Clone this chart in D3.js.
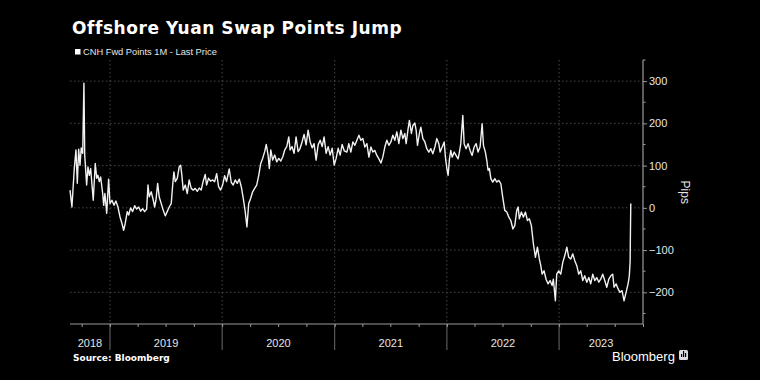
<!DOCTYPE html>
<html>
<head>
<meta charset="utf-8">
<script src="https://cdn.jsdelivr.net/npm/d3@7"></script>
<style>
html,body{margin:0;padding:0;background:#000;}
svg{display:block;}
</style>
</head>
<body>
<svg id="chart" width="760" height="380"></svg>
<script>
// ---- data ----
const title = "Offshore Yuan Swap Points Jump";
const seriesName = "CNH Fwd Points 1M - Last Price";
const yAxisTitle = "Pips";
const sourceText = "Source: Bloomberg";
const yTicks = [-200, -100, 0, 100, 200, 300];
const yearLabels = ["2018", "2019", "2020", "2021", "2022", "2023"];
const domainStart = "2018-08-24";
const domainEnd = "2023-10-01";

// observation time as fractional year
const yearFrac = [
2018.644,2018.661,2018.682,2018.697,2018.709,2018.721,2018.733,2018.744,2018.757,2018.768,
2018.775,2018.792,2018.804,2018.816,2018.828,2018.840,2018.851,2018.869,2018.882,2018.893,
2018.905,2018.917,2018.935,2018.944,2018.955,2018.971,2018.988,2019.000,2019.018,2019.036,
2019.053,2019.071,2019.089,2019.107,2019.122,2019.136,2019.154,2019.167,2019.184,2019.202,
2019.220,2019.238,2019.256,2019.273,2019.291,2019.309,2019.327,2019.339,2019.350,2019.368,
2019.386,2019.398,2019.410,2019.425,2019.439,2019.457,2019.475,2019.493,2019.510,2019.528,
2019.546,2019.559,2019.570,2019.582,2019.600,2019.617,2019.630,2019.641,2019.653,2019.671,
2019.689,2019.706,2019.724,2019.742,2019.760,2019.778,2019.796,2019.813,2019.831,2019.849,
2019.861,2019.879,2019.897,2019.915,2019.933,2019.951,2019.968,2019.986,2020.004,2020.022,
2020.039,2020.063,2020.081,2020.098,2020.116,2020.134,2020.152,2020.170,2020.188,2020.205,
2020.220,2020.236,2020.253,2020.271,2020.289,2020.307,2020.325,2020.343,2020.360,2020.378,
2020.392,2020.408,2020.419,2020.432,2020.449,2020.467,2020.485,2020.503,2020.521,2020.539,
2020.556,2020.574,2020.592,2020.604,2020.621,2020.639,2020.657,2020.675,2020.693,2020.710,
2020.728,2020.746,2020.764,2020.782,2020.800,2020.817,2020.835,2020.853,2020.871,2020.889,
2020.906,2020.924,2020.942,2020.960,2020.978,2020.996,2021.013,2021.031,2021.049,2021.067,
2021.085,2021.109,2021.126,2021.144,2021.162,2021.180,2021.198,2021.216,2021.233,2021.251,
2021.269,2021.287,2021.305,2021.323,2021.340,2021.358,2021.376,2021.394,2021.412,2021.429,
2021.447,2021.465,2021.483,2021.501,2021.518,2021.536,2021.554,2021.572,2021.590,2021.608,
2021.625,2021.637,2021.655,2021.666,2021.684,2021.697,2021.714,2021.726,2021.738,2021.755,
2021.768,2021.786,2021.804,2021.821,2021.839,2021.857,2021.875,2021.893,2021.910,2021.928,
2021.940,2021.958,2021.976,2021.987,2022.000,2022.011,2022.023,2022.035,2022.047,2022.065,
2022.082,2022.100,2022.112,2022.124,2022.142,2022.154,2022.171,2022.189,2022.207,2022.225,
2022.243,2022.261,2022.278,2022.296,2022.314,2022.326,2022.343,2022.356,2022.367,2022.379,
2022.392,2022.409,2022.427,2022.445,2022.463,2022.481,2022.498,2022.516,2022.534,2022.552,
2022.570,2022.588,2022.605,2022.623,2022.635,2022.646,2022.664,2022.682,2022.700,2022.718,
2022.735,2022.753,2022.771,2022.789,2022.807,2022.824,2022.837,2022.849,2022.866,2022.884,
2022.902,2022.920,2022.938,2022.949,2022.967,2022.979,2022.997,2023.015,2023.033,2023.051,
2023.069,2023.086,2023.104,2023.122,2023.140,2023.158,2023.175,2023.193,2023.211,2023.229,
2023.247,2023.265,2023.282,2023.300,2023.318,2023.336,2023.354,2023.371,2023.389,2023.407,
2023.425,2023.443,2023.461,2023.478,2023.490,2023.508,2023.526,2023.543,2023.561,2023.579,
2023.597,2023.615,2023.626,2023.633,2023.639
];
const pips = [
42,2,93,137,58,139,101,142,129,295,
125,54,97,77,93,54,18,105,70,77,
62,73,34,6,34,-13,68,10,18,6,
16,2,-21,-37,-53,-37,-9,-17,0,-9,
5,-3,2,-8,-2,-9,-3,54,26,38,
18,2,18,58,26,10,-6,-19,-9,2,
10,54,85,62,70,97,101,77,42,54,
34,66,46,42,46,39,47,42,63,79,
54,70,63,66,62,81,50,42,54,76,
62,92,60,54,66,58,68,50,22,-9,
-45,10,22,38,46,54,77,105,117,133,
150,125,93,137,113,125,109,117,111,121,
137,145,168,137,145,129,168,133,141,156,
174,149,184,156,142,152,113,149,160,145,
168,129,145,125,141,101,117,141,125,150,
135,132,152,132,156,148,160,172,160,164,
144,152,120,144,132,136,124,116,106,120,
144,160,148,156,172,160,180,152,184,164,
176,152,188,207,176,195,201,184,148,176,
191,164,156,140,132,140,128,144,164,152,
132,144,156,120,93,77,116,136,120,132,
124,116,132,152,219,152,140,152,136,124,
144,152,132,144,199,148,132,112,89,93,
69,61,69,61,65,57,25,-6,-10,-22,
-30,-50,-42,-6,2,-26,-10,-22,-10,-30,
-26,-42,-85,-117,-93,-121,-137,-157,-149,-169,
-180,-172,-184,-169,-220,-157,-149,-157,-129,-113,
-93,-117,-121,-109,-125,-137,-157,-149,-172,-161,
-176,-165,-180,-157,-172,-165,-176,-169,-157,-172,
-188,-169,-161,-157,-188,-180,-192,-200,-196,-220,
-200,-180,-161,-129,10
];

// ---- helpers ----
function fracToDate(f) {
  const y = Math.floor(f);
  const s = Date.UTC(y, 0, 1), e = Date.UTC(y + 1, 0, 1);
  return new Date(s + (f - y) * (e - s));
}
const data = yearFrac.map((f, i) => ({ date: fracToDate(f), value: pips[i] }));

const svg = d3.select("#chart");
const W = 760, H = 380;
svg.append("rect").attr("width", W).attr("height", H).attr("fill", "#000");

const plot = { left: 70, right: 643, top: 60, bottom: 324 };
const x = d3.scaleUtc()
  .domain([new Date(domainStart + "T00:00:00Z"), new Date(domainEnd + "T00:00:00Z")])
  .range([plot.left, plot.right]);
const y = d3.scaleLinear().domain([-275, 350]).range([plot.bottom, plot.top]);

const gridColor = "#5a5a5a";
const axisColor = "#9a9a9a";
const textColor = "#e6e6e6";
const fontMain = "'Liberation Sans', Arial, sans-serif";

// horizontal gridlines
svg.append("g").selectAll("line").data(yTicks).join("line")
  .attr("x1", plot.left).attr("x2", plot.right)
  .attr("y1", d => y(d)).attr("y2", d => y(d))
  .attr("stroke", gridColor).attr("stroke-width", 0.8)
  .attr("stroke-dasharray", "1.5,2.5");

// year boundaries
const [d0, d1] = x.domain();
const yearStarts = d3.utcYear.range(d3.utcYear.ceil(d0), d1);
svg.append("g").selectAll("line").data(yearStarts).join("line")
  .attr("x1", d => x(d)).attr("x2", d => x(d))
  .attr("y1", plot.top).attr("y2", plot.bottom)
  .attr("stroke", gridColor).attr("stroke-width", 0.8)
  .attr("stroke-dasharray", "1.5,2.5");
svg.append("g").selectAll("line").data(yearStarts).join("line")
  .attr("x1", d => x(d)).attr("x2", d => x(d))
  .attr("y1", plot.bottom).attr("y2", plot.bottom + 26)
  .attr("stroke", "#6a6a6a").attr("stroke-width", 1);

// bottom axis with quarterly ticks
const xAxis = d3.axisBottom(x)
  .ticks(d3.utcMonth.every(3))
  .tickSize(3).tickFormat("");
const gx = svg.append("g").attr("transform", `translate(0,${plot.bottom})`).call(xAxis);
gx.select(".domain").attr("stroke", axisColor).attr("stroke-width", 1.2).attr("d", `M${plot.left},0H${plot.right}`);
gx.selectAll(".tick line").attr("stroke", axisColor);

// year labels centred in their visible span
const yearSpans = yearLabels.map(lbl => {
  const yr = +lbl;
  const a = Math.max(+d0, Date.UTC(yr, 0, 1));
  const b = Math.min(+d1, Date.UTC(yr + 1, 0, 1));
  return { lbl, mid: new Date((a + b) / 2) };
});
svg.append("g").selectAll("text").data(yearSpans).join("text")
  .attr("x", d => x(d.mid)).attr("y", plot.bottom + 23)
  .attr("text-anchor", "middle")
  .attr("fill", textColor).attr("font-family", fontMain).attr("font-size", 11)
  .text(d => d.lbl);

// right axis
const yAxis = d3.axisRight(y).tickValues(yTicks).tickSize(4).tickPadding(2);
const gy = svg.append("g").attr("transform", `translate(${plot.right},0)`).call(yAxis);
gy.select(".domain").attr("stroke", axisColor).attr("stroke-width", 1.2)
  .attr("d", `M0,${plot.top}V${plot.bottom}`);
gy.selectAll(".tick line").attr("stroke", axisColor);
gy.selectAll(".tick text").attr("fill", textColor).attr("font-family", fontMain).attr("font-size", 11);
// minor ticks
const minorTicks = d3.range(-250, 351, 100);
svg.append("g").selectAll("line").data(minorTicks).join("line")
  .attr("x1", plot.right).attr("x2", plot.right + 2.5)
  .attr("y1", d => y(d)).attr("y2", d => y(d))
  .attr("stroke", axisColor);

// axis title
svg.append("text")
  .attr("transform", `translate(681,${y(37)}) rotate(90)`)
  .attr("text-anchor", "middle")
  .attr("fill", textColor).attr("font-family", fontMain).attr("font-size", 12)
  .text(yAxisTitle);

// line
const line = d3.line().x(d => x(d.date)).y(d => y(d.value));
svg.append("path").datum(data)
  .attr("d", line).attr("fill", "none")
  .attr("stroke", "#f2f2f2").attr("stroke-width", 1.4)
  .attr("stroke-linejoin", "round");

// title
svg.append("text")
  .attr("x", 72).attr("y", 34)
  .attr("fill", "#fff").attr("font-family", "'DejaVu Sans', sans-serif")
  .attr("font-weight", "bold").attr("font-size", 17)
  .attr("letter-spacing", 0.55)
  .text(title);

// legend
svg.append("rect").attr("x", 75).attr("y", 49).attr("width", 5.5).attr("height", 5.5).attr("fill", "#fff");
svg.append("text")
  .attr("x", 83).attr("y", 55)
  .attr("fill", textColor).attr("font-family", fontMain).attr("font-size", 9.3)
  .text(seriesName);

// footer
svg.append("text")
  .attr("x", 73).attr("y", 361)
  .attr("fill", "#fff").attr("font-family", "'DejaVu Sans', sans-serif")
  .attr("font-weight", "bold").attr("font-size", 9)
  .text(sourceText);
svg.append("text")
  .attr("x", 612).attr("y", 361)
  .attr("fill", "#fff").attr("font-family", fontMain).attr("font-size", 13)
  .text("Bloomberg");
svg.append("rect").attr("x", 679).attr("y", 350).attr("width", 9).attr("height", 10)
  .attr("rx", 1.5).attr("fill", "#ddd");
svg.append("g").selectAll("rect").data([3, 6, 4]).join("rect")
  .attr("x", (d, i) => 681 + i * 2).attr("y", d => 357 - d).attr("width", 1.2).attr("height", d => d)
  .attr("fill", "#000");
</script>
</body>
</html>
